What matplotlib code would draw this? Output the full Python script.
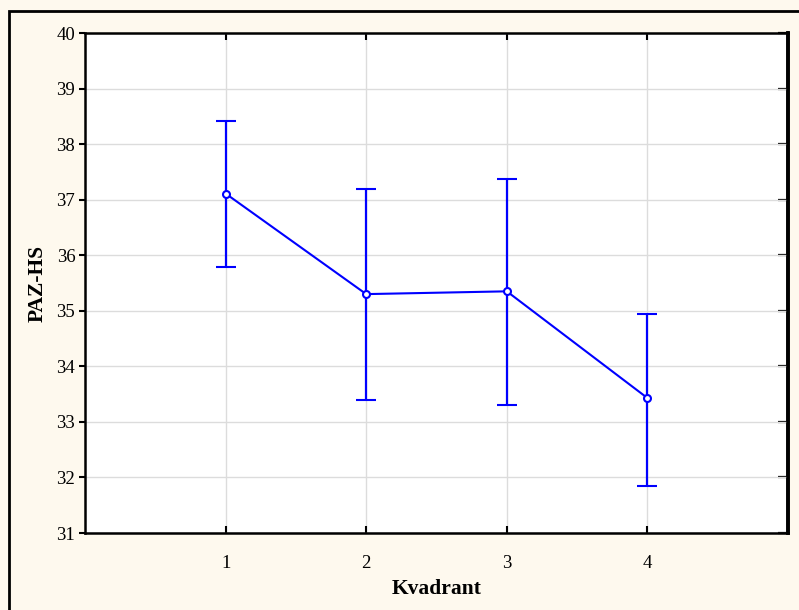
import matplotlib
matplotlib.use("Agg")
import matplotlib.pyplot as plt
from matplotlib.patches import Rectangle
import numpy as np

quadrants = [1, 2, 3, 4]
means = [37.11, 35.30, 35.35, 33.43]
upper = [38.42, 37.19, 37.38, 34.95]
lower = [35.79, 33.39, 33.30, 31.84]
yticks = [31, 32, 33, 34, 35, 36, 37, 38, 39, 40]
xlabel = "Kvadrant"
ylabel = "PAZ-HS"

plt.rcParams['font.family'] = ['Liberation Serif', 'DejaVu Serif']

bg = '#FEF9EE'
fig = plt.figure(figsize=(7.99, 6.10), dpi=100, facecolor=bg)
# outer frame (left & top visible)
fig.patches.append(Rectangle((9/799, -0.1), 1.2, (610-11)/610 + 0.1,
                             transform=fig.transFigure, fill=False,
                             edgecolor='black', linewidth=2.0))

ax = fig.add_axes([85/799, (610-533)/610, 703/799, 500/610])
ax.set_facecolor('white')

m = np.array(means)
yerr = np.array([m - np.array(lower), np.array(upper) - m])
ax.errorbar(quadrants, means, yerr=yerr, color='#0000FF', lw=1.5,
            elinewidth=1.6, capsize=7, capthick=1.6,
            marker='o', markersize=5, markerfacecolor='white',
            markeredgecolor='#0000FF', markeredgewidth=1.5, zorder=3)

ax.set_xlim(0, 5)
ax.set_ylim(31, 40)
ax.set_xticks(quadrants)
ax.set_yticks(yticks)
ax.grid(True, color='#DCDCDC', lw=1)
ax.set_axisbelow(True)

for s in ['left', 'bottom', 'top']:
    ax.spines[s].set_linewidth(1.8)
ax.spines['right'].set_linewidth(2.6)

ax.tick_params(axis='y', which='major', direction='out', length=4, width=1.5,
               labelsize=13.5, pad=3)
ax.tick_params(axis='x', which='major', direction='in', length=5, width=1.5,
               labelsize=13.5, pad=16, top=True)

# right-side inward ticks without labels
sec = ax.secondary_yaxis('right')
sec.set_yticks(yticks)
sec.tick_params(direction='in', length=7, width=1.6, color='black',
                labelright=False)
sec.spines['right'].set_linewidth(2.6)

ax.set_xlabel(xlabel, fontsize=15.5, fontweight='bold')
ax.set_ylabel(ylabel, fontsize=15.5, fontweight='bold')
ax.xaxis.label.set_va('center')
ax.yaxis.label.set_va('center')
ax.xaxis.set_label_coords(0.5, (533-589)/500)
ax.yaxis.set_label_coords((37.5-85)/703, 0.5)

fig.savefig('out.png', dpi=100, facecolor=bg)
